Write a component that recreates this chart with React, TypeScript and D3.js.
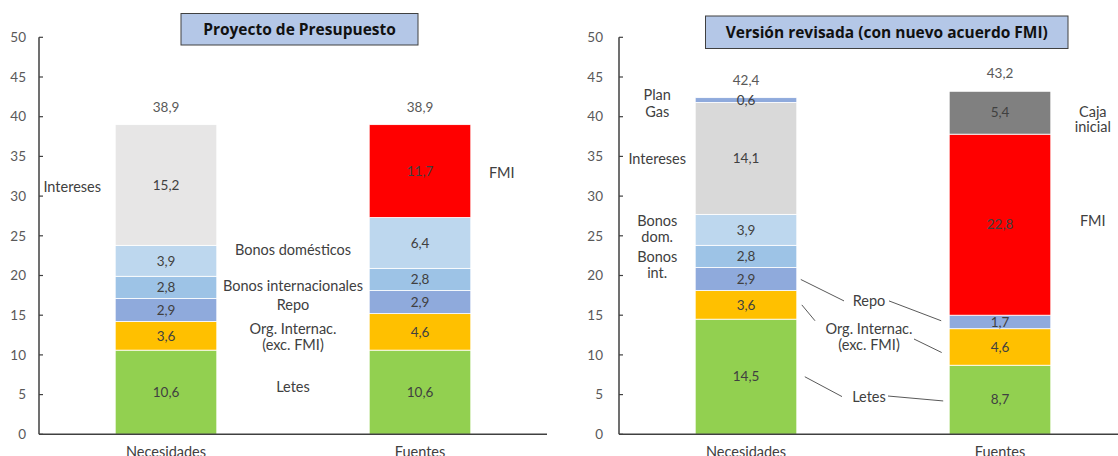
import React from "react";
import * as d3 from "d3";

// ---------- DATA ----------
const categories = ["Necesidades", "Fuentes"];
const yTicks = [0, 5, 10, 15, 20, 25, 30, 35, 40, 45, 50];

const leftNecKeys = ["Letes", "Org", "Repo", "BonosInt", "BonosDom", "Intereses"];
const leftNecValues = [10.6, 3.6, 2.9, 2.8, 3.9, 15.2];
const leftFueKeys = ["Letes", "Org", "Repo", "BonosInt", "BonosDom", "FMI"];
const leftFueValues = [10.6, 4.6, 2.9, 2.8, 6.4, 11.7];
const leftTotals = [38.9, 38.9];

const rightNecKeys = ["Letes", "Org", "Repo", "BonosInt", "BonosDom", "Intereses2", "PlanGas"];
const rightNecValues = [14.5, 3.6, 2.9, 2.8, 3.9, 14.1, 0.6];
const rightFueKeys = ["Letes", "Org", "Repo", "FMI", "Caja"];
const rightFueValues = [8.7, 4.6, 1.7, 22.8, 5.4];
const rightTotals = [42.4, 43.2];

// category labels: lines, anchor ("left" of first bar, "mid", "right" of second bar), value position
const leftLabels = [
  { lines: ["Intereses"], pos: "left", v: [31.1] },
  { lines: ["FMI"], pos: "right", v: [32.9] },
  { lines: ["Bonos domésticos"], pos: "mid", v: [23.2] },
  { lines: ["Bonos internacionales"], pos: "mid", v: [18.7] },
  { lines: ["Repo"], pos: "mid", v: [16.3] },
  { lines: ["Org. Internac.", "(exc. FMI)"], pos: "mid", v: [13.3, 11.3] },
  { lines: ["Letes"], pos: "mid", v: [6.0] },
];
const rightLabels = [
  { lines: ["Plan", "Gas"], pos: "left", v: [42.7, 40.6] },
  { lines: ["Intereses"], pos: "left", v: [34.7] },
  { lines: ["Bonos", "dom."], pos: "left", v: [26.9, 24.9] },
  { lines: ["Bonos", "int."], pos: "left", v: [22.4, 20.3] },
  { lines: ["Caja", "inicial"], pos: "right", v: [40.6, 38.7] },
  { lines: ["FMI"], pos: "right", v: [26.9] },
  { lines: ["Repo"], pos: "mid", v: [16.8] },
  { lines: ["Org. Internac.", "(exc. FMI)"], pos: "mid", v: [13.3, 11.3] },
  { lines: ["Letes"], pos: "mid", v: [4.75] },
];
// leader lines (right chart): from anchor/offset/value to anchor/offset/value
const rightLeaders = [
  { a1: "bar0R", dx1: 4, v1: 19.5, a2: "mid", dx2: -25, v2: 16.8 },
  { a1: "mid", dx1: 20, v1: 16.8, a2: "bar1L", dx2: -8, v2: 14.3 },
  { a1: "bar0R", dx1: 5, v1: 16.3, a2: "mid", dx2: -54, v2: 14.3 },
  { a1: "mid", dx1: 45, v1: 12.0, a2: "bar1L", dx2: -7.5, v2: 10.3 },
  { a1: "bar0R", dx1: 8, v1: 7.25, a2: "mid", dx2: -27, v2: 4.75 },
  { a1: "mid", dx1: 19, v1: 4.82, a2: "bar1L", dx2: -6, v2: 4.2 },
];

// ---------- STYLE ----------
const colors: Record<string, string> = {
  Letes: "#92d050",
  Org: "#ffc000",
  Repo: "#8faadc",
  BonosInt: "#9dc3e6",
  BonosDom: "#bdd7ee",
  Intereses: "#e7e6e6",
  Intereses2: "#d9d9d9",
  PlanGas: "#8faadc",
  FMI: "#ff0000",
  Caja: "#808080",
};
const FONT = "Lato, 'Open Sans', sans-serif";
const TITLE_FONT = "'Open Sans', Lato, sans-serif";
const TXT = "#404040";

const fmt = (v: number) => v.toFixed(1).replace(".", ",");

const y = d3.scaleLinear().domain([0, 50]).range([434.3, 37.3]);

function Panel({
  x0, width, series, totals, labels, leaders, tickEnd, midShift, leftOff, rightOff,
}: any) {
  const x = d3.scaleBand().domain(categories).range([x0, x0 + width]).paddingInner(0.6).paddingOuter(0.3);
  const bw = x.bandwidth();
  const b0L = x(categories[0])!;
  const b1L = x(categories[1])!;
  const anchors: Record<string, number> = {
    bar0L: b0L,
    bar0R: b0L + bw,
    bar1L: b1L,
    bar1R: b1L + bw,
    mid: (b0L + b1L + bw) / 2 + midShift,
  };
  const stack = (keys: string[], values: number[]) => {
    let acc = 0;
    return keys.map((k, i) => {
      const s = { key: k, v: values[i], y0: acc, y1: acc + values[i] };
      acc += values[i];
      return s;
    });
  };
  return (
    <g>
      {/* y axis */}
      <line x1={x0} x2={x0} y1={y(50)} y2={y(0)} stroke="#404040" strokeWidth={1.5} />
      {yTicks.map((t) => (
        <g key={t}>
          <line x1={x0} x2={x0 + 4} y1={y(t)} y2={y(t)} stroke="#404040" strokeWidth={1.2} />
          <text x={tickEnd} y={y(t)} dy="0.35em" textAnchor="end" fontSize={13.5} fill="#595959" fontFamily={FONT}>
            {t}
          </text>
        </g>
      ))}
      {/* bars */}
      {series.map((s: any, ci: number) => {
        const cat = categories[ci];
        const segs = stack(s.keys, s.values);
        return (
          <g key={cat}>
            {segs.map((sg) => (
              <rect key={sg.key} x={x(cat)} width={bw} y={y(sg.y1)} height={y(sg.y0) - y(sg.y1)}
                fill={colors[sg.key]} stroke="#ffffff" strokeWidth={0.8} />
            ))}
            {segs.map((sg) => (
              <text key={sg.key + "t"} x={x(cat)! + bw / 2} y={y((sg.y0 + sg.y1) / 2)} dy="0.35em"
                textAnchor="middle" fontSize={13.5} fill={TXT} fontFamily={FONT}>
                {fmt(sg.v)}
              </text>
            ))}
            <text x={x(cat)! + bw / 2} y={y(totals[ci]) - 13} textAnchor="middle" fontSize={13.5}
              fill="#595959" fontFamily={FONT}>
              {fmt(totals[ci])}
            </text>
            <text x={x(cat)! + bw / 2} y={457} textAnchor="middle" fontSize={14.5} fill={TXT} fontFamily={FONT}>
              {cat}
            </text>
          </g>
        );
      })}
      {/* x axis */}
      <line x1={x0} x2={x0 + width} y1={y(0)} y2={y(0)} stroke="#404040" strokeWidth={1.5} />
      {/* category labels */}
      {labels.map((l: any, i: number) => {
        const cx = l.pos === "left" ? b0L - leftOff : l.pos === "right" ? b1L + bw + rightOff : anchors.mid;
        return l.lines.map((ln: string, j: number) => (
          <text key={i + "-" + j} x={cx} y={y(l.v[j])} dy="0.35em" textAnchor="middle" fontSize={14.5}
            fill={TXT} fontFamily={FONT}>
            {ln}
          </text>
        ));
      })}
      {leaders.map((ld: any, i: number) => (
        <line key={"ld" + i} x1={anchors[ld.a1] + ld.dx1} y1={y(ld.v1)} x2={anchors[ld.a2] + ld.dx2} y2={y(ld.v2)}
          stroke="#595959" strokeWidth={1} />
      ))}
    </g>
  );
}

function TitleBox({ x, yTop, w, h, text }: any) {
  return (
    <g>
      <rect x={x} y={yTop} width={w} height={h} fill="#b4c7e7" stroke="#404040" strokeWidth={1} />
      <text x={x + w / 2} y={yTop + h / 2} dy="0.36em" textAnchor="middle" fontSize={15.5} fontWeight={700}
        fill="#111111" fontFamily={TITLE_FONT}>
        {text}
      </text>
    </g>
  );
}

export default function App() {
  return (
    <svg width={1118} height={456} style={{ position: "absolute", left: 0, top: 0, background: "#fff" }}>
      <rect x={0} y={0} width={1118} height={456} fill="#ffffff" />
      <Panel
        x0={39}
        width={508}
        series={[
          { keys: leftNecKeys, values: leftNecValues },
          { keys: leftFueKeys, values: leftFueValues },
        ]}
        totals={leftTotals}
        labels={leftLabels}
        leaders={[]}
        tickEnd={26}
        midShift={0}
        leftOff={43}
        rightOff={31}
      />
      <Panel
        x0={619}
        width={508}
        series={[
          { keys: rightNecKeys, values: rightNecValues },
          { keys: rightFueKeys, values: rightFueValues },
        ]}
        totals={rightTotals}
        labels={rightLabels}
        leaders={rightLeaders}
        tickEnd={603}
        midShift={-4}
        leftOff={38}
        rightOff={42}
      />
      <TitleBox x={181} yTop={13.5} w={237} h={31.5} text="Proyecto de Presupuesto" />
      <TitleBox x={705.5} yTop={16} w={362.5} h={32.5} text="Versión revisada (con nuevo acuerdo FMI)" />
    </svg>
  );
}
